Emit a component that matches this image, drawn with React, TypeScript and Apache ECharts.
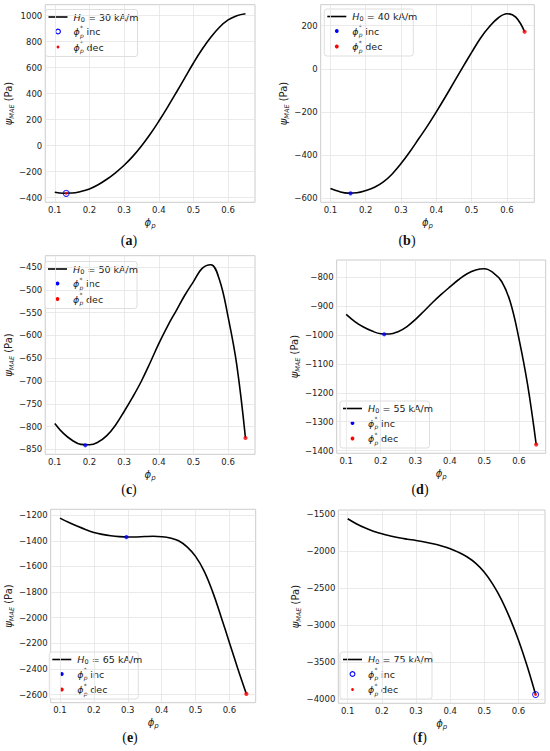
import React, { useEffect, useRef } from 'react';
import * as echarts from 'echarts';

// ---- data ----
const PHI = [
  0.1, 0.125, 0.15, 0.175, 0.2, 0.225, 0.25, 0.275, 0.3, 0.325, 0.35, 0.375,
  0.4, 0.425, 0.45, 0.475, 0.5, 0.525, 0.55, 0.575, 0.6, 0.625, 0.65,
];

const PSI_H30 = [-358, -365, -364, -352, -332, -300, -258, -208, -150, -82, -2, 88, 188, 295, 407, 522, 636, 741, 833, 911, 967, 1000, 1015];
const PSI_H40 = [-556, -570, -577, -575, -565, -550, -525, -488, -440, -385, -325, -265, -200, -132, -62, 8, 76, 142, 195, 236, 256, 240, 172];
const PSI_H50 = [-793, -815, -830, -839, -840, -834, -820, -797, -767, -735, -700, -660, -618, -580, -546, -512, -482, -453, -445, -478, -560, -665, -825];
const PSI_H55 = [-928, -953, -972, -986, -995, -996, -988, -971, -946, -917, -887, -859, -833, -808, -787, -774, -770, -783, -814, -885, -1012, -1171, -1379];
const PSI_H65 = [-1223, -1256, -1285, -1312, -1335, -1350, -1361, -1368, -1371, -1370, -1367, -1365, -1368, -1378, -1400, -1448, -1522, -1635, -1795, -1990, -2195, -2400, -2595];
const PSI_H75 = [-1558, -1625, -1680, -1725, -1761, -1790, -1815, -1834, -1851, -1871, -1895, -1925, -1962, -2012, -2075, -2160, -2280, -2445, -2650, -2905, -3200, -3545, -3935];

const CURVES = [PSI_H30, PSI_H40, PSI_H50, PSI_H55, PSI_H65, PSI_H75];
const H0_VALUES = [30, 40, 50, 55, 65, 75];

const INC_PHI = [0.133, 0.157, 0.188, 0.21, 0.296, 0.65];
const INC_PSI = [-366, -578, -841, -997, -1371, -3935];
const DEC_PHI = [0.133, 0.65, 0.65, 0.65, 0.65, 0.65];
const DEC_PSI = [-366, 172, -825, -1379, -2595, -3935];

const X_TICKS = [0.1, 0.2, 0.3, 0.4, 0.5, 0.6];
const Y_TICKS_H30 = [-400, -200, 0, 200, 400, 600, 800, 1000];
const Y_TICKS_H40 = [-600, -400, -200, 0, 200];
const Y_TICKS_H50 = [-850, -800, -750, -700, -650, -600, -550, -500, -450];
const Y_TICKS_H55 = [-1400, -1300, -1200, -1100, -1000, -900, -800];
const Y_TICKS_H65 = [-2600, -2400, -2200, -2000, -1800, -1600, -1400, -1200];
const Y_TICKS_H75 = [-4000, -3500, -3000, -2500, -2000, -1500];
const Y_TICKS = [Y_TICKS_H30, Y_TICKS_H40, Y_TICKS_H50, Y_TICKS_H55, Y_TICKS_H65, Y_TICKS_H75];

const CAPTIONS = ['a', 'b', 'c', 'd', 'e', 'f'];

// ---- layout / style ----
const GRIDS = [
  { left: 41.7, top: 4.7, width: 213.3, height: 197.6 },
  { left: 320.7, top: 4.7, width: 213.6, height: 197.6 },
  { left: 41.7, top: 255.7, width: 213.3, height: 198.6 },
  { left: 336.7, top: 260, width: 209, height: 193.3 },
  { left: 45, top: 509.3, width: 210.7, height: 193.4 },
  { left: 338.3, top: 510, width: 206.7, height: 193.3 },
];
const Y_NAME_GAP = [25, 29, 27, 30, 31, 32];
const HOLLOW_INC = [true, false, false, false, false, true];
const LEGEND_POS = [
  [45.5, 9.5, 92],
  [324.3, 9, 89],
  [45, 261.5, 92],
  [340, 401, 89.5],
  [49.3, 652, 89],
  [340, 652, 92],
];
const CAPTION_POS = [
  [129, 240],
  [407, 240],
  [129, 489],
  [420, 489],
  [130, 737],
  [420, 737],
];

const FONT = 'DejaVu Sans';
const TEXT_COLOR = '#222';
const BLUE = '#0000ff';
const RED = '#ff0000';

const fmtNum = (v: number) => String(v).replace('-', '\u2212');

function buildOption() {
  const xr = PHI[PHI.length - 1] - PHI[0];
  const xMin = PHI[0] - 0.05 * xr;
  const xMax = PHI[PHI.length - 1] + 0.05 * xr;

  const grid: any[] = [];
  const xAxis: any[] = [];
  const yAxis: any[] = [];
  const series: any[] = [];
  const graphic: any[] = [];

  for (let i = 0; i < 6; i++) {
    const g = GRIDS[i];
    grid.push({
      ...g,
      show: true,
      borderColor: '#cccccc',
      borderWidth: 1,
      backgroundColor: 'transparent',
      containLabel: false,
    });

    const vals = CURVES[i].concat([INC_PSI[i], DEC_PSI[i]]);
    const yLo = Math.min(...vals);
    const yHi = Math.max(...vals);
    const yr = yHi - yLo;

    xAxis.push({
      gridIndex: i,
      type: 'value',
      min: xMin,
      max: xMax,
      axisLine: { show: false },
      axisTick: { show: false, customValues: X_TICKS },
      axisLabel: {
        customValues: X_TICKS,
        formatter: (v: number) => v.toFixed(1),
        fontSize: 8.5,
        fontFamily: FONT,
        color: TEXT_COLOR,
        margin: 3,
      },
      splitLine: { show: true, lineStyle: { color: '#e4e4e4', width: 0.8 } },
      name: '{i|\u03d5}{s|p}',
      nameLocation: 'middle',
      nameGap: 8,
      nameTextStyle: {
        fontFamily: FONT,
        fontSize: 10,
        color: TEXT_COLOR,
        lineHeight: 14,
        rich: {
          i: { fontFamily: FONT, fontStyle: 'italic', fontSize: 10, lineHeight: 14, color: TEXT_COLOR },
          s: { fontFamily: FONT, fontStyle: 'italic', fontSize: 7, lineHeight: 9, verticalAlign: 'bottom', color: TEXT_COLOR },
        },
      },
    });

    yAxis.push({
      gridIndex: i,
      type: 'value',
      min: yLo - 0.05 * yr,
      max: yHi + 0.05 * yr,
      axisLine: { show: false },
      axisTick: { show: false, customValues: Y_TICKS[i] },
      axisLabel: {
        customValues: Y_TICKS[i],
        formatter: (v: number) => fmtNum(v),
        fontSize: 8.5,
        fontFamily: FONT,
        color: TEXT_COLOR,
        margin: 3,
      },
      splitLine: { show: true, lineStyle: { color: '#e4e4e4', width: 0.8 } },
      name: '{i|\u03c8}{s|MAE}{t| (Pa)}',
      nameLocation: 'middle',
      nameRotate: 90,
      nameGap: Y_NAME_GAP[i],
      nameTextStyle: {
        fontFamily: FONT,
        fontSize: 10,
        color: TEXT_COLOR,
        lineHeight: 14,
        rich: {
          i: { fontFamily: FONT, fontStyle: 'italic', fontSize: 10, lineHeight: 14, color: TEXT_COLOR },
          s: { fontFamily: FONT, fontStyle: 'italic', fontSize: 6.5, lineHeight: 9, verticalAlign: 'bottom', color: TEXT_COLOR },
          t: { fontFamily: FONT, fontSize: 10, lineHeight: 14, color: TEXT_COLOR },
        },
      },
    });

    series.push({
      type: 'line',
      name: 'H0 = ' + H0_VALUES[i] + ' kA/m',
      xAxisIndex: i,
      yAxisIndex: i,
      data: PHI.map((p, j) => [p, CURVES[i][j]]),
      smooth: 0.4,
      symbol: 'none',
      lineStyle: { color: '#000', width: 1.6 },
      z: 2,
    });
    const hollow = HOLLOW_INC[i];
    series.push({
      type: 'scatter',
      name: 'inc ' + i,
      xAxisIndex: i,
      yAxisIndex: i,
      data: [[INC_PHI[i], INC_PSI[i]]],
      symbol: 'circle',
      symbolSize: hollow ? 6 : 4.2,
      itemStyle: hollow
        ? { color: 'rgba(0,0,0,0)', borderColor: BLUE, borderWidth: 1.1 }
        : { color: BLUE },
      z: 3,
    });
    series.push({
      type: 'scatter',
      name: 'dec ' + i,
      xAxisIndex: i,
      yAxisIndex: i,
      data: [[DEC_PHI[i], DEC_PSI[i]]],
      symbol: 'circle',
      symbolSize: hollow ? 3 : 4.2,
      itemStyle: { color: RED },
      z: 4,
    });

    // legend box
    const [lx, ly, lw] = LEGEND_POS[i];
    const rows = [7.5, 22, 37.5];
    const txt = (x: number, y: number, text: string, size: number, italic = false) => ({
      type: 'text',
      x,
      y,
      style: {
        text,
        fill: TEXT_COLOR,
        fontFamily: FONT,
        fontSize: size,
        fontStyle: italic ? 'italic' : 'normal',
        align: 'left',
        verticalAlign: 'middle',
        textAlign: 'left',
        textVerticalAlign: 'middle',
      },
    });
    const phiLabel = (y: number, word: string) => [
      txt(28, y, '\u03d5', 9.5, true),
      txt(34.4, y - 4.2, '*', 6),
      txt(34.4, y + 3.6, 'p', 6, true),
      txt(41, y, word, 9.5),
    ];
    graphic.push({
      type: 'group',
      x: lx,
      y: ly,
      z: 20,
      children: [
        {
          type: 'rect',
          shape: { x: 0, y: 0, width: lw, height: 47, r: 2.5 },
          style: { fill: 'rgba(255,255,255,0.85)', stroke: '#d5d5d5', lineWidth: 0.8 },
        },
        {
          type: 'line',
          shape: { x1: 3, y1: rows[0], x2: 22, y2: rows[0] },
          style: { stroke: '#000', lineWidth: 1.6 },
        },
        txt(28, rows[0], 'H', 9.5, true),
        txt(35.3, rows[0] + 2.8, '0', 6.5),
        txt(42.5, rows[0], '= ' + H0_VALUES[i] + ' kA/m', 9.5),
        {
          type: 'circle',
          shape: { cx: 12.5, cy: rows[1], r: hollow ? 2.4 : 1.9 },
          style: hollow
            ? { fill: 'rgba(0,0,0,0)', stroke: BLUE, lineWidth: 1.1 }
            : { fill: BLUE },
        },
        ...phiLabel(rows[1], 'inc'),
        {
          type: 'circle',
          shape: { cx: 12.5, cy: rows[2], r: hollow ? 1.4 : 1.9 },
          style: { fill: RED },
        },
        ...phiLabel(rows[2], 'dec'),
      ],
    });

    const [cx, cy] = CAPTION_POS[i];
    graphic.push({
      type: 'text',
      x: cx,
      y: cy,
      z: 20,
      style: {
        text: '({b|' + CAPTIONS[i] + '})',
        fill: '#111',
        fontFamily: 'Liberation Serif',
        fontSize: 14,
        align: 'center',
        verticalAlign: 'middle',
        textAlign: 'center',
        textVerticalAlign: 'middle',
        rich: {
          b: { fontFamily: 'Liberation Serif', fontSize: 14, fontWeight: 'bold', fill: '#111', color: '#111' },
        },
      },
    });
  }

  return {
    animation: false,
    backgroundColor: '#ffffff',
    grid,
    xAxis,
    yAxis,
    series,
    graphic,
  };
}

export default function App() {
  const ref = useRef<HTMLDivElement>(null);
  useEffect(() => {
    if (!ref.current) return;
    const chart = echarts.init(ref.current, undefined, { renderer: 'svg' });
    chart.setOption(buildOption() as any);
    return () => chart.dispose();
  }, []);
  return (
    <div
      ref={ref}
      style={{ position: 'fixed', left: 0, top: 0, width: 550, height: 751, background: '#fff' }}
    />
  );
}
